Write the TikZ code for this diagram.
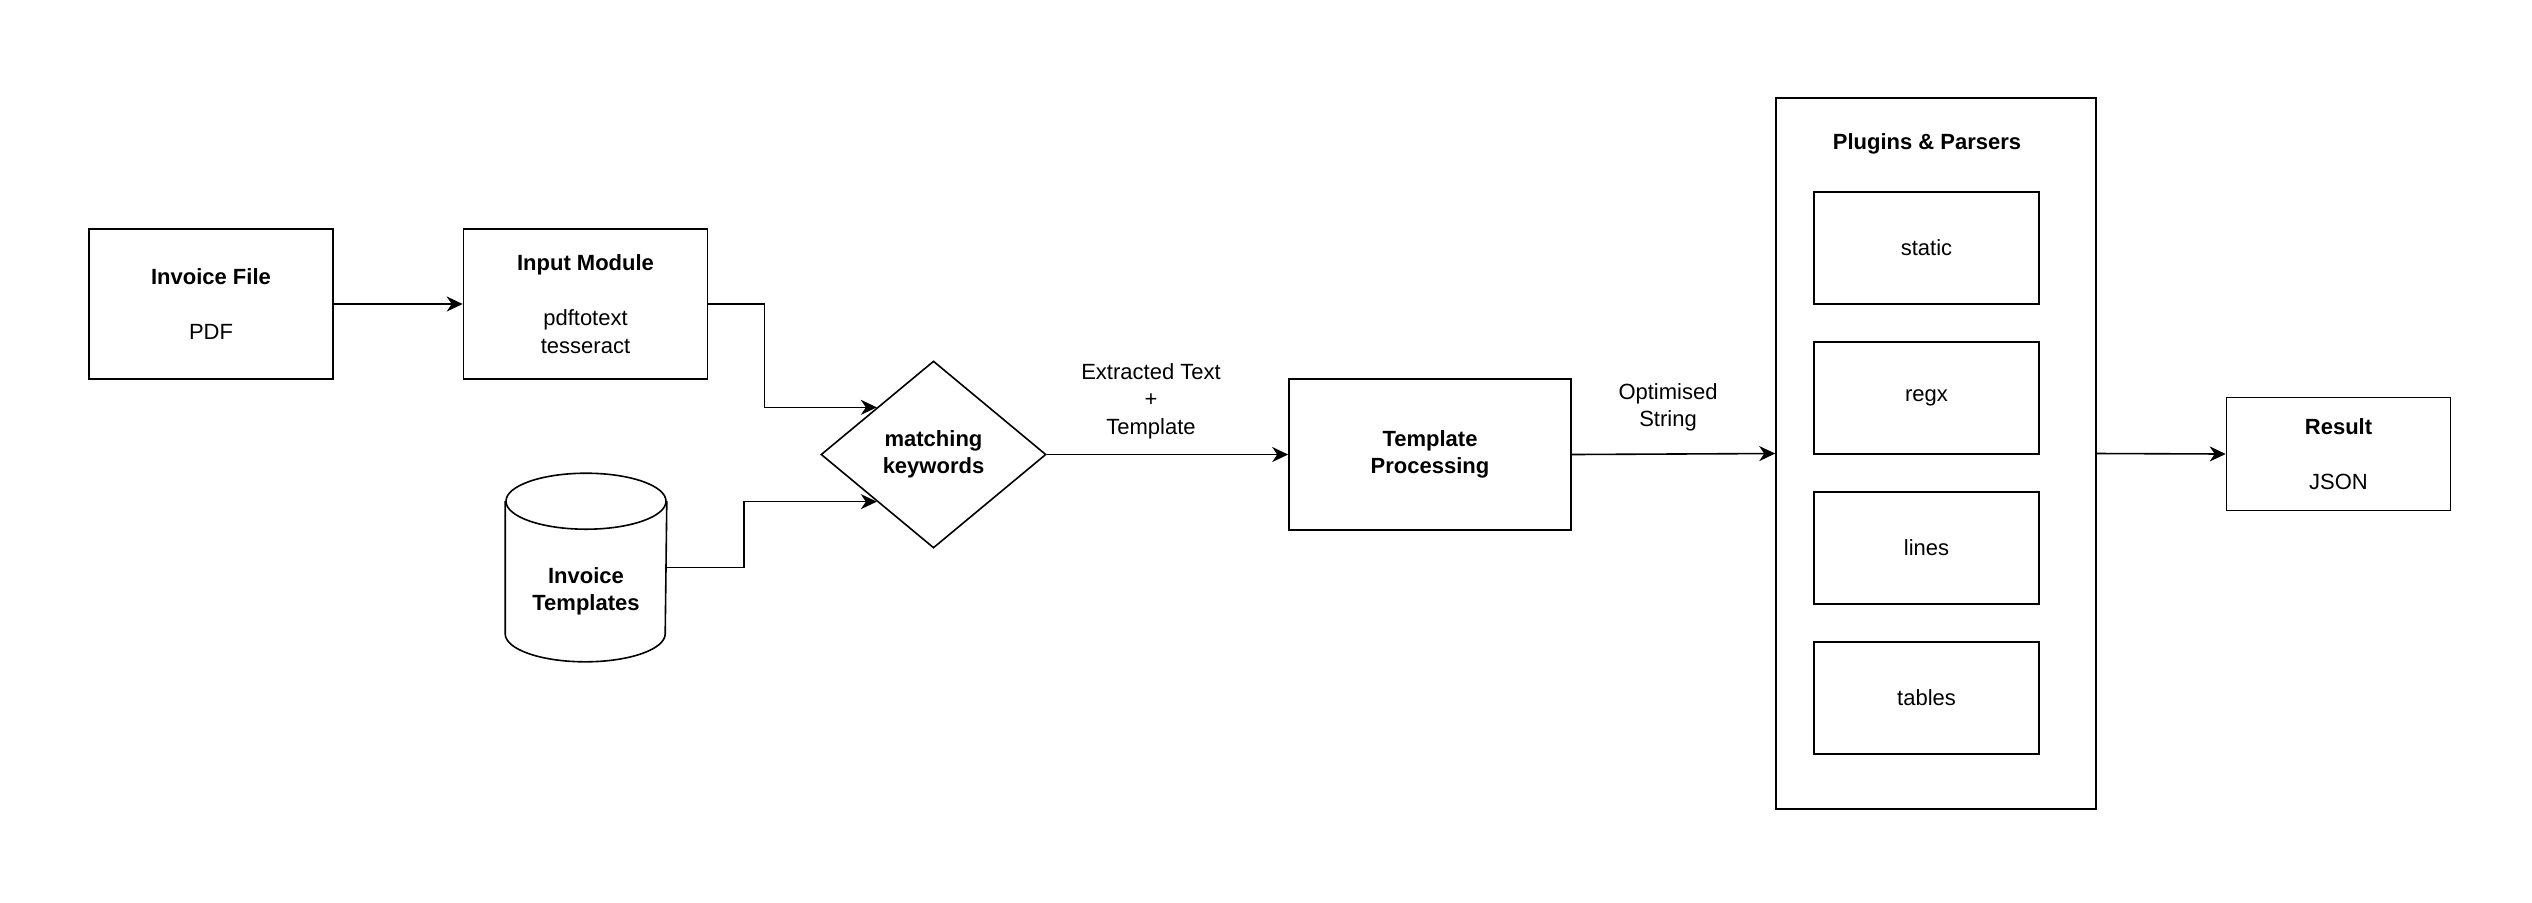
\documentclass[tikz,border=0pt]{standalone}
\usepackage{fontspec}
\setmainfont{Liberation Sans}
\usetikzlibrary{shapes.geometric,arrows.meta,calc}

\begin{document}
\begin{tikzpicture}[x=0.5pt, y=-0.5pt, line width=0.8pt,
        font=\fontsize{11}{13.75}\selectfont,
        box/.style={draw, align=center, inner sep=0pt},
        arr/.style={-{Stealth[length=8pt, width=7.5pt, inset=2.5pt]}}]
        \useasboundingbox (0,0) rectangle (2532,902);

        % Input side
        \node[box, minimum width=122pt, minimum height=75pt] (file) at (211,304) {\textbf{Invoice File}\\[13.75pt]PDF};
        \node[box, minimum width=122pt, minimum height=75pt] (input) at (585.5,304) {\textbf{Input Module}\\[13.75pt]pdftotext\\tesseract};

        % Template store (cylinder)
        \node[inner sep=0pt, minimum width=80pt, minimum height=93.5pt] (tmpl) at (586,567.5) {};
        \draw ($(tmpl.north west)+(0,28)$) -- ($(tmpl.south west)+(0,-28)$)
            arc[start angle=180, end angle=360, x radius=40pt, y radius=14pt]
            -- ($(tmpl.north east)+(0,28)$);
        \draw ($(tmpl.north)+(0,28)$) ellipse [x radius=40pt, y radius=14pt];
        \node[align=center] (tmpltext) at (586,591.5) {\textbf{Invoice}\\\textbf{Templates}};

        % Matching and processing
        \node[draw, diamond, inner sep=0pt, minimum width=112.5pt, minimum height=93.5pt, align=center] (match) at (933.5,454.5) {\textbf{matching}\\\textbf{keywords}};
        \node[box, minimum width=141pt, minimum height=75.5pt] (proc) at (1430,454.5) {\textbf{Template}\\\textbf{Processing}};

        % Plugins & Parsers
        \node[draw, inner sep=0pt, minimum width=160pt, minimum height=355.5pt] (plugins) at (1936,453.5) {};
        \node (plugtitle) at (1927,144) {\textbf{Plugins \& Parsers}};
        \foreach \name [count=\i] in {static,regx,lines,tables}
            \node[box, minimum width=112.5pt, minimum height=56pt] (\name) at (1926.5,{98+150*\i}) {\name};

        % Output
        \node[box, minimum width=112pt, minimum height=56.5pt] (result) at (2338.5,454) {\textbf{Result}\\[13.75pt]JSON};

        % Connectors
        \draw[arr] (file.east) -- (input.west);
        \draw[arr] (input.east) -- ++(28pt,0) |- ($(match.west)!0.5!(match.north)$);
        \draw[arr] (tmpl.east) -- ++(38.5pt,0) |- ($(match.west)!0.5!(match.south)$);
        \draw[arr] (match.east) -- (proc.west);
        \draw[arr] (proc.east) -- (plugins.west);
        \draw[arr] (plugins.east) -- (result.west);

        % Edge labels
        \node[align=center] (extlabel) at (1151,401) {Extracted Text\\+\\Template};
        \node[align=center] (optlabel) at (1668,407.5) {Optimised\\String};

    \end{tikzpicture}
\end{document}
